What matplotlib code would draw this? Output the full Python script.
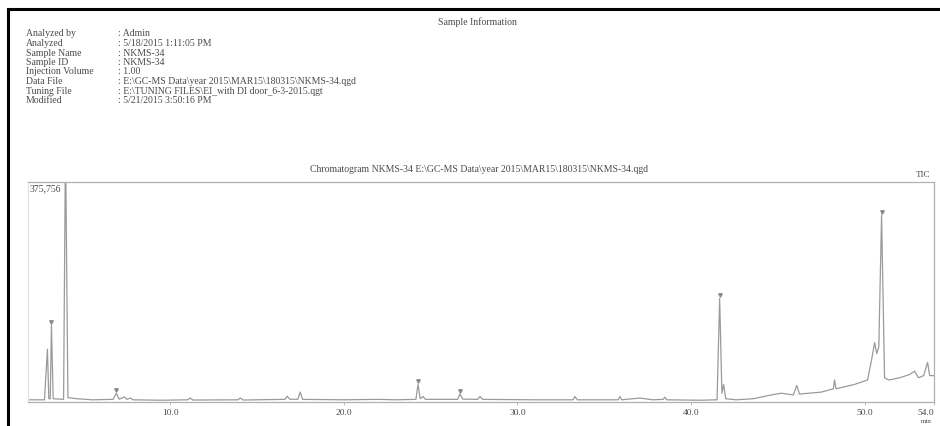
import matplotlib.pyplot as plt
from matplotlib.lines import Line2D

# ---- sample information (header block) ----
info_labels = ["Analyzed by", "Analyzed", "Sample Name", "Sample ID",
               "Injection Volume", "Data File", "Tuning File", "Modified"]
info_values = ["Admin",
               "5/18/2015 1:11:05 PM",
               "NKMS-34",
               "NKMS-34",
               "1.00",
               r"E:\GC-MS Data\year 2015\MAR15\180315\NKMS-34.qgd",
               r"E:\TUNING FILES\EI_with DI door_6-3-2015.qgt",
               "5/21/2015 3:50:16 PM"]
chrom_title = r"Chromatogram NKMS-34 E:\GC-MS Data\year 2015\MAR15\180315\NKMS-34.qgd"
max_label = "375,756"

# ---- TIC trace (time in min, intensity in % of full scale) ----
trace_t = [1.8, 2.75, 2.92, 3.0, 3.08, 3.15, 3.25, 3.85, 3.96, 4.1, 4.6, 5.5,
           6.7, 6.89, 7.05, 7.35, 7.5, 7.70, 7.85, 9.5,
           11.0, 11.15, 11.3, 13.9, 14.03, 14.2, 16.6, 16.73, 16.9, 17.35, 17.48, 17.62,
           20.0, 22.0, 23.0, 24.15, 24.27, 24.4, 24.56, 24.7,
           26.55, 26.69, 26.85, 27.7, 27.84, 28.0, 31.0,
           33.2, 33.31, 33.45, 35.8, 35.9, 36.0, 37.05, 37.8, 38.4, 38.49, 38.6,
           40.5, 41.5, 41.65, 41.78, 41.88, 42.0, 42.6, 43.6, 44.5, 45.2, 45.9, 46.09, 46.25,
           47.5, 48.2, 48.27, 48.35, 49.42, 50.17, 50.4, 50.58, 50.7, 50.82, 50.98, 51.15,
           51.4, 52.01, 52.6, 52.88, 53.1, 53.4, 53.63, 53.75, 54.0]
trace_y = [1.0, 1.0, 24.0, 1.5, 1.5, 35.0, 1.5, 1.2, 118.0, 2.0, 1.5, 1.0,
           1.2, 4.0, 1.3, 2.3, 1.2, 1.8, 1.0, 0.8,
           1.0, 1.8, 0.9, 1.0, 1.8, 0.9, 1.2, 2.6, 1.2, 1.3, 4.5, 1.2,
           1.0, 1.2, 1.0, 1.2, 8.0, 1.5, 2.5, 1.2,
           1.2, 3.6, 1.3, 1.2, 2.5, 1.2, 1.0,
           1.0, 2.5, 1.0, 1.0, 2.5, 1.0, 1.8, 1.0, 1.2, 2.2, 1.0,
           0.8, 1.0, 47.0, 4.0, 8.0, 1.5, 1.0, 1.5, 3.0, 4.0, 3.2, 7.5, 3.6,
           4.5, 6.0, 10.0, 6.0, 8.0, 10.0, 19.0, 27.0, 22.0, 25.0, 85.0, 11.0,
           10.0, 11.0, 12.5, 14.0, 11.0, 12.0, 18.0, 12.0, 12.0]

# peaks that carry a top marker on the print
marked_t = [3.15, 6.89, 24.27, 26.69, 41.65, 50.98]
marked_y = [35.0, 4.0, 8.0, 3.6, 47.0, 85.0]

xticks = [10.0, 20.0, 30.0, 40.0, 50.0, 54.0]

txt = "#4a4a4a"
grey = "#9a9a9a"
serif = "Liberation Serif"

fig = plt.figure(figsize=(9.4, 4.27), dpi=100)
W, H = 940.0, 427.0

def fx(px):
    return px / W

def fy(py):
    return 1 - py / H

# scanned page frame (top and left edges)
fig.add_artist(Line2D([fx(8), fx(8)], [0, fy(10)], color="black", lw=2.2))
fig.add_artist(Line2D([fx(8), 1], [fy(10), fy(10)], color="black", lw=2.2))

fig.text(fx(477), fy(22), "Sample Information", ha="center", va="center",
         fontsize=7, color=txt, family=serif)
for i in range(len(info_labels)):
    y = fy(34 + 9.5 * i)
    fig.text(fx(26), y, info_labels[i], ha="left", va="center",
             fontsize=7, color=txt, family=serif)
    fig.text(fx(118), y, ": " + info_values[i], ha="left", va="center",
             fontsize=7, color=txt, family=serif)

fig.text(fx(479), fy(170), chrom_title, ha="center", va="center",
         fontsize=7, color=txt, family=serif)

# chromatogram axes
ax = fig.add_axes([fx(28), fy(403), fx(934) - fx(28), fy(183) - fy(403)])
ax.plot(trace_t, trace_y, color=grey, lw=0.9, clip_on=True)
ax.plot(marked_t, [v + 1.5 for v in marked_y], linestyle="none", marker="v",
        markersize=2.5, color="#8a8a8a")
ax.set_xlim(1.8, 54.0)
ax.set_ylim(0, 100)

for side in ["top", "right", "bottom", "left"]:
    ax.spines[side].set_color("#b0b0b0")
    ax.spines[side].set_linewidth(0.9)
ax.spines["left"].set_color("#e2e2e2")

ax.set_xticks(xticks)
ax.set_xticklabels(["%.1f" % v for v in xticks], fontsize=6.8, color=txt,
                   family=serif)
ax.get_xticklabels()[-1].set_horizontalalignment("right")
ax.tick_params(axis="x", length=2, width=0.6, color="#b0b0b0", pad=2)
ax.set_yticks([])

ax.text(0.002, 0.975, max_label, transform=ax.transAxes, ha="left", va="center",
        fontsize=7, color=txt, family=serif)
fig.text(fx(923), fy(175), "TIC", ha="center", va="center", fontsize=6.5,
         color=txt, family=serif)
fig.text(fx(926), fy(422), "min", ha="center", va="center", fontsize=5,
         color=txt, family=serif)

fig.savefig("out.png", dpi=100, facecolor="white")
